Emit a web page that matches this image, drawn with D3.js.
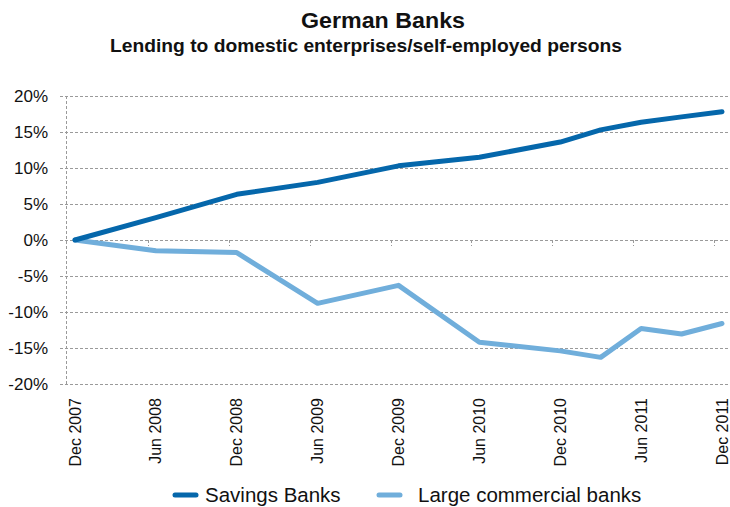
<!DOCTYPE html>
<html>
<head>
<meta charset="utf-8">
<script src="https://cdn.jsdelivr.net/npm/d3@7/dist/d3.min.js"></script>
<style>
  html, body { margin: 0; padding: 0; background: #fff; }
  svg { display: block; font-family: "Liberation Sans", Arial, Helvetica, sans-serif; }
</style>
</head>
<body>
<svg id="chart" width="730" height="507"></svg>
<script>
// Observation months, counted from Dec 2007
const months = [0, 6, 12, 18, 24, 30, 36, 39, 42, 45, 48];
// Percentage change in lending since Dec 2007
const savingsBanks = [0, 3.1, 6.35, 8.0, 10.3, 11.5, 13.6, 15.3, 16.35, 17.1, 17.8];
const commercialBanks = [0, -1.5, -1.75, -8.8, -6.3, -14.2, -15.4, -16.3, -12.3, -13.05, -11.6];
// Axis labels
const tickMonths = [0, 6, 12, 18, 24, 30, 36, 42, 48];
const tickLabels = ["Dec 2007", "Jun 2008", "Dec 2008", "Jun 2009", "Dec 2009",
                    "Jun 2010", "Dec 2010", "Jun 2011", "Dec 2011"];
const yTicks = [20, 15, 10, 5, 0, -5, -10, -15, -20];
const seriesNames = ["Savings Banks", "Large commercial banks"];
const seriesColors = ["#0567ab", "#70aedb"];

const svg = d3.select("#chart");

const x = d3.scaleLinear().domain([0, 48]).range([75, 722]);
const y = d3.scaleLinear().domain([-20, 20]).range([384, 96]);
const axisLeftX = 66;
const plotRight = 731;
const gridColor = "#9a9a9a";

// Title
svg.append("text").attr("x", 383).attr("y", 28)
  .attr("text-anchor", "middle").attr("font-weight", "bold").attr("font-size", 22)
  .attr("fill", "#111")
  .attr("textLength", 164).attr("lengthAdjust", "spacingAndGlyphs")
  .text("German Banks");
svg.append("text").attr("x", 366).attr("y", 52)
  .attr("text-anchor", "middle").attr("font-weight", "bold").attr("font-size", 18.5)
  .attr("fill", "#111")
  .attr("textLength", 512).attr("lengthAdjust", "spacingAndGlyphs")
  .text("Lending to domestic enterprises/self-employed persons");

// Horizontal gridlines with left tick marks
const grid = svg.append("g");
grid.selectAll("line.h").data(yTicks).join("line")
  .attr("class", "h")
  .attr("x1", axisLeftX - 6).attr("x2", plotRight)
  .attr("y1", d => y(d)).attr("y2", d => y(d))
  .attr("stroke", gridColor).attr("stroke-width", 1)
  .attr("stroke-dasharray", "3,2")
  .attr("shape-rendering", "crispEdges");

// Vertical axis line
grid.append("line")
  .attr("x1", axisLeftX).attr("x2", axisLeftX)
  .attr("y1", y(20)).attr("y2", y(-20))
  .attr("stroke", gridColor).attr("stroke-dasharray", "3,2")
  .attr("shape-rendering", "crispEdges");

// Category tick marks on the zero line
grid.selectAll("line.t").data(tickMonths.slice(1)).join("line")
  .attr("class", "t")
  .attr("x1", d => Math.round(x(d) - 8)).attr("x2", d => Math.round(x(d) - 8))
  .attr("y1", y(0)).attr("y2", y(0) + 6)
  .attr("stroke", gridColor).attr("stroke-dasharray", "3,2")
  .attr("shape-rendering", "crispEdges");

// Y labels
svg.append("g").selectAll("text").data(yTicks).join("text")
  .attr("x", 48).attr("y", d => y(d))
  .attr("dy", "0.36em")
  .attr("text-anchor", "end").attr("font-size", 17).attr("fill", "#111")
  .text(d => d + "%");

// X labels, rotated
svg.append("g").selectAll("text").data(tickMonths).join("text")
  .attr("transform", d => `translate(${x(d) + 5.5},398) rotate(-90)`)
  .attr("text-anchor", "end").attr("font-size", 16).attr("fill", "#111")
  .text((d, i) => tickLabels[i]);

// Lines
const line = d3.line().x((d, i) => x(months[i])).y(d => y(d));
[commercialBanks, savingsBanks].forEach((vals, k) => {
  const color = k === 0 ? seriesColors[1] : seriesColors[0];
  svg.append("path").datum(vals)
    .attr("d", line)
    .attr("fill", "none").attr("stroke", color)
    .attr("stroke-width", 5)
    .attr("stroke-linejoin", "round").attr("stroke-linecap", "round");
});

// Legend
const legendItems = [
  { name: seriesNames[0], color: seriesColors[0], x: 175, tx: 205 },
  { name: seriesNames[1], color: seriesColors[1], x: 379, tx: 418 }
];
const lg = svg.append("g");
legendItems.forEach(it => {
  lg.append("line").attr("x1", it.x).attr("x2", it.x + 21)
    .attr("y1", 495).attr("y2", 495)
    .attr("stroke", it.color).attr("stroke-width", 5).attr("stroke-linecap", "round");
  lg.append("text").attr("x", it.tx).attr("y", 502)
    .attr("font-size", 20.5).attr("fill", "#111").text(it.name);
});
</script>
</body>
</html>
